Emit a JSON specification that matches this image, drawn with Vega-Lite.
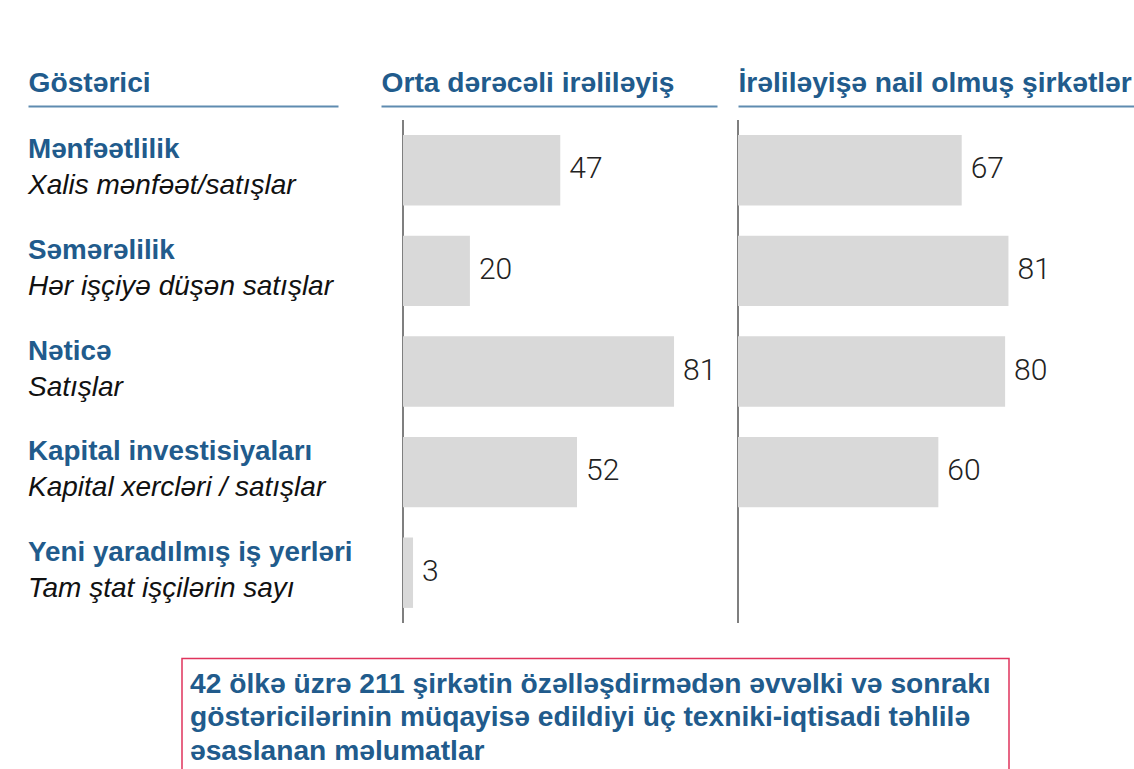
{
  "$schema": "https://vega.github.io/schema/vega-lite/v6.json",
  "background": "white",
  "padding": {"left": 28, "top": 68, "right": 0, "bottom": 0},
  "config": {
    "view": {"stroke": null},
    "font": "Liberation Sans",
    "axis": {
      "grid": false, "ticks": false, "labels": false,
      "domainColor": "#5f8bb0", "domainWidth": 2,
      "titleFont": "Liberation Sans", "titleFontSize": 28.2, "titleFontWeight": "bold",
      "titleColor": "#215b8c", "titleAnchor": "start", "titleAlign": "left",
      "titleBaseline": "alphabetic", "titlePadding": 15, "offset": 14
    }
  },
  "datasets": {
    "rows": [
      {"indicator": "Mənfəətlilik", "measure": "Xalis mənfəət/satışlar", "moderate": 47, "advanced": 67},
      {"indicator": "Səmərəlilik", "measure": "Hər işçiyə düşən satışlar", "moderate": 20, "advanced": 81},
      {"indicator": "Nəticə", "measure": "Satışlar", "moderate": 81, "advanced": 80},
      {"indicator": "Kapital investisiyaları", "measure": "Kapital xercləri / satışlar", "moderate": 52, "advanced": 60},
      {"indicator": "Yeni yaradılmış iş yerləri", "measure": "Tam ştat işçilərin sayı", "moderate": 3, "advanced": null}
    ],
    "note": [
      {"text": "42 ölkə üzrə 211 şirkətin özəlləşdirmədən əvvəlki və sonrakı\ngöstəricilərinin müqayisə edildiyi üç texniki-iqtisadi təhlilə\nəsaslanan məlumatlar"}
    ],
    "one": [{}],
    "none": []
  },
  "spacing": 33.5,
  "vconcat": [
    {
      "spacing": 20,
      "hconcat": [
        {
          "spacing": 28,
          "hconcat": [
            {
              "width": 310, "height": 503,
              "data": {"name": "rows"},
              "encoding": {
                "y": {"field": "indicator", "type": "nominal", "sort": null,
                      "scale": {"domain": ["Mənfəətlilik", "Səmərəlilik", "Nəticə", "Kapital investisiyaları", "Yeni yaradılmış iş yerləri"], "paddingInner": 0.3, "paddingOuter": 0.15},
                      "axis": null},
                "x": {"datum": 0, "type": "quantitative", "scale": {"domain": [0, 1]},
                      "axis": {"orient": "top", "title": "Göstərici"}}
              },
              "layer": [
                {"mark": {"type": "text", "align": "left", "baseline": "alphabetic", "dy": -12, "fontSize": 27.8, "fontWeight": "bold", "color": "#215b8c", "font": "Liberation Sans"},
                 "encoding": {"text": {"field": "indicator"}}},
                {"mark": {"type": "text", "align": "left", "baseline": "alphabetic", "dy": 24, "fontSize": 28, "fontStyle": "italic", "color": "#111111", "font": "Liberation Sans"},
                 "encoding": {"text": {"field": "measure"}}}
              ]
            },
            {
              "width": 336, "height": 503,
              "layer": [
                {"data": {"name": "one"}, "mark": {"type": "rule", "color": "#7f7f7f", "strokeWidth": 2},
                 "encoding": {"x": {"datum": 0, "type": "quantitative"}}},
                {"data": {"name": "rows"}, "mark": {"type": "bar", "color": "#d9d9d9"},
                 "encoding": {
                   "y": {"field": "indicator", "type": "nominal", "sort": null,
                         "scale": {"domain": ["Mənfəətlilik", "Səmərəlilik", "Nəticə", "Kapital investisiyaları", "Yeni yaradılmış iş yerləri"], "paddingInner": 0.3, "paddingOuter": 0.15},
                         "axis": null},
                   "x": {"field": "moderate", "type": "quantitative",
                         "scale": {"domain": [-6.575, 93.84], "nice": false, "zero": false},
                         "axis": {"orient": "top", "title": "Orta dərəcəli irəliləyiş"}}
                 }},
                {"data": {"name": "rows"}, "mark": {"type": "text", "align": "left", "baseline": "alphabetic", "dx": 9, "dy": 8, "font": "Roboto", "fontWeight": 300, "fontSize": 30, "color": "#222222"},
                 "encoding": {
                   "y": {"field": "indicator", "type": "nominal", "sort": null},
                   "x": {"field": "moderate", "type": "quantitative"},
                   "text": {"field": "moderate", "type": "quantitative"}
                 }}
              ]
            }
          ]
        },
        {
          "width": 398, "height": 503,
          "layer": [
            {"data": {"name": "one"}, "mark": {"type": "rule", "color": "#7f7f7f", "strokeWidth": 2},
             "encoding": {"x": {"datum": 0, "type": "quantitative"}}},
            {"data": {"name": "rows"}, "mark": {"type": "bar", "color": "#d9d9d9"},
             "encoding": {
               "y": {"field": "indicator", "type": "nominal", "sort": null,
                     "scale": {"domain": ["Mənfəətlilik", "Səmərəlilik", "Nəticə", "Kapital investisiyaları", "Yeni yaradılmış iş yerləri"], "paddingInner": 0.3, "paddingOuter": 0.15},
                     "axis": null},
               "x": {"field": "advanced", "type": "quantitative",
                     "scale": {"domain": [0, 119.2], "nice": false, "zero": false},
                     "axis": {"orient": "top", "title": "İrəliləyişə nail olmuş şirkətlər"}}
             }},
            {"data": {"name": "rows"}, "mark": {"type": "text", "align": "left", "baseline": "alphabetic", "dx": 9, "dy": 8, "font": "Roboto", "fontWeight": 300, "fontSize": 30, "color": "#222222"},
             "encoding": {
               "y": {"field": "indicator", "type": "nominal", "sort": null},
               "x": {"field": "advanced", "type": "quantitative"},
               "text": {"field": "advanced", "type": "quantitative"}
             }}
          ]
        }
      ]
    },
    {
      "spacing": 20,
      "hconcat": [
        {
          "width": 133, "height": 112,
          "data": {"name": "none"},
          "mark": {"type": "text"},
          "encoding": {"text": {"field": "text"}}
        },
        {
          "width": 827, "height": 112,
          "data": {"name": "note"},
          "view": {"stroke": "#e0335c", "strokeWidth": 1.5, "fill": "white"},
          "mark": {"type": "text", "align": "left", "baseline": "alphabetic", "lineBreak": "\n", "lineHeight": 33.5, "dx": 8, "dy": 34, "font": "Liberation Sans", "fontSize": 28.2, "fontWeight": "bold", "color": "#215b8c"},
          "encoding": {
            "text": {"field": "text"},
            "x": {"datum": 0, "type": "quantitative", "scale": {"domain": [0, 1]}, "axis": null},
            "y": {"datum": 1, "type": "quantitative", "scale": {"domain": [0, 1]}, "axis": null}
          }
        }
      ]
    }
  ]
}
